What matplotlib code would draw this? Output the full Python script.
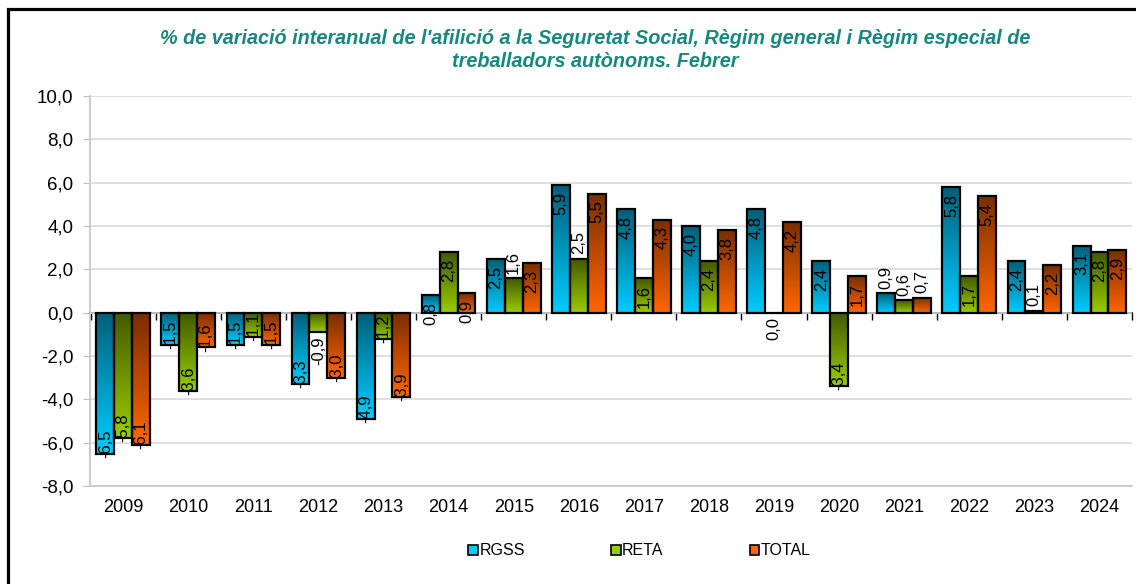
import numpy as np
import matplotlib
matplotlib.use("Agg")
import matplotlib.pyplot as plt
from matplotlib.patches import Rectangle, Patch

plt.rcParams['font.family'] = ['Liberation Sans', 'DejaVu Sans']

years = ['2009', '2010', '2011', '2012', '2013', '2014', '2015', '2016',
         '2017', '2018', '2019', '2020', '2021', '2022', '2023', '2024']
rgss = [-6.5, -1.5, -1.5, -3.3, -4.9, 0.8, 2.5, 5.9, 4.8, 4.0, 4.8, 2.4, 0.9, 5.8, 2.4, 3.1]
reta = [-5.8, -3.6, -1.1, -0.9, -1.2, 2.8, 1.6, 2.5, 1.6, 2.4, 0.0, -3.4, 0.6, 1.7, 0.1, 2.8]
total = [-6.1, -1.6, -1.5, -3.0, -3.9, 0.9, 2.3, 5.5, 4.3, 3.8, 4.2, 1.7, 0.7, 5.4, 2.2, 2.9]

series = [('RGSS', rgss, '#005f7a', '#00ccff'),
          ('RETA', reta, '#435a00', '#99cc00'),
          ('TOTAL', total, '#7a2e00', '#ff6600')]

# labels that Excel pushed outside the bar end
outside = {('RETA', '2012'), ('RETA', '2015'), ('RETA', '2016'), ('RETA', '2019'),
           ('RGSS', '2021'), ('RETA', '2021'), ('TOTAL', '2021'), ('RETA', '2023')}

fig = plt.figure(figsize=(11.36, 5.84), dpi=100)
ax = fig.add_axes([90 / 1136, 1 - 486 / 584, 1042 / 1136, 390 / 584])

x = np.arange(len(years))
w = 0.275


def grad(c1, c2, n=64):
    a = np.array(matplotlib.colors.to_rgb(c1))
    b = np.array(matplotlib.colors.to_rgb(c2))
    t = np.linspace(0, 1, n)[:, None]
    return (a + (b - a) * t)[:, None, :]


for k, (name, vals, dark, light) in enumerate(series):
    xs = x + (k - 1) * w
    img = grad(dark, light)
    for xi, v, yr in zip(xs, vals, years):
        if v != 0:
            ax.imshow(img, extent=(xi - w / 2, xi + w / 2, min(0, v), max(0, v)),
                      aspect='auto', zorder=2, interpolation='bilinear')
        ax.add_patch(Rectangle((xi - w / 2, min(0, v)), w, abs(v), facecolor='none',
                               edgecolor='black', lw=1.6, zorder=3))
        lab = f"{v:.1f}".replace('.', ',')
        if (name, yr) in outside:
            off, va = (3, 'bottom') if v > 0 else (-3, 'top')
        else:
            off, va = (-5, 'top') if v > 0 else (-3, 'bottom')
        ax.annotate(lab, (xi, v), xytext=(0, off), textcoords='offset points',
                    rotation=90, ha='center', va=va, fontsize=12, zorder=4)

ax.set_xlim(-0.51, 15.5)
ax.set_ylim(-8, 10)
yt = np.arange(-8, 11, 2)
ax.set_yticks(yt, [f"{v:.1f}".replace('.', ',') for v in yt])
ax.set_xticks(x, years)
ax.tick_params(axis='x', length=0, pad=9, labelsize=13)
ax.tick_params(axis='y', length=5, color='#bfbfbf', pad=7, labelsize=13.5)
ax.grid(axis='y', color='#d9d9d9', lw=1.2, zorder=0)
ax.set_axisbelow(True)
for s in ['top', 'right']:
    ax.spines[s].set_visible(False)
for s in ['left', 'bottom']:
    ax.spines[s].set_color('#c8c8c8')
    ax.spines[s].set_linewidth(1.3)

zero = ax.secondary_xaxis(8 / 18)
zero.set_xticks(np.arange(-0.5, 16, 1), [''] * 17)
zero.tick_params(length=5, width=1, color='black')
zero.spines['bottom'].set_color('black')
zero.spines['bottom'].set_linewidth(1.3)

fig.text(0.524, 0.914, "% de variació interanual de l'afilició a la Seguretat Social, Règim general i Règim especial de\ntreballadors autònoms. Febrer",
         ha='center', va='center', color='#16897f', fontsize=14.3, fontweight='bold',
         fontstyle='italic', linespacing=1.3)

handles = [Patch(facecolor=light, edgecolor='black', lw=1.2) for _, _, _, light in series]
fig.legend(handles, [s[0] for s in series], loc='center', bbox_to_anchor=(0.563, 0.057),
           ncol=3, frameon=False, fontsize=11.5, handlelength=0.6, handleheight=0.6,
           handletextpad=0.1, columnspacing=5.4)

fig.patches.append(Rectangle((8 / 1136, -0.1), 1.2, 1.1 - 9.5 / 584, transform=fig.transFigure,
                             fill=False, edgecolor='black', lw=2.3))

fig.savefig('out.png', dpi=100)
